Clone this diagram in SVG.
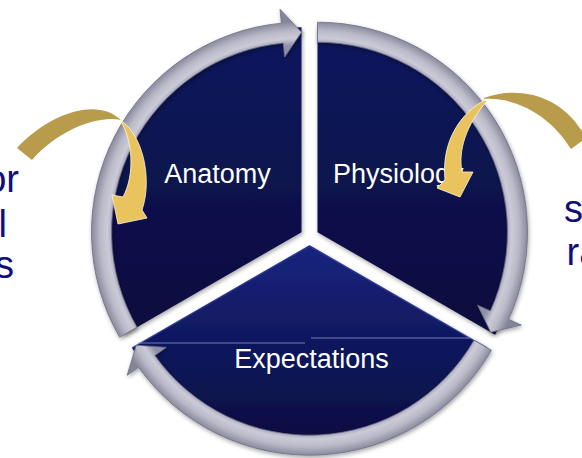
<svg xmlns="http://www.w3.org/2000/svg" width="582" height="458" viewBox="0 0 582 458">
<defs>
<style>
.lbl{font-family:"Liberation Sans",Arial,sans-serif;font-size:27px;fill:#ffffff;text-anchor:middle}
.side{font-family:"Liberation Sans",Arial,sans-serif;font-size:38px;fill:#0d1078}
.band{stroke:#6f6f86;stroke-width:0.8;stroke-linejoin:round}
.gdark{fill:#b89b4b}
.glight{fill:#e9c45e;stroke:#fff6dc;stroke-width:0.8;stroke-linejoin:round}
.hl{stroke:#8f97c8;stroke-width:1;opacity:0.8}
</style>
<filter id="sh" x="-10%" y="-10%" width="120%" height="120%">
<feDropShadow dx="1" dy="2" stdDeviation="2" flood-color="#000" flood-opacity="0.35"/>
</filter>
<linearGradient id="wedgeG" x1="0" y1="0" x2="0" y2="1">
<stop offset="0" stop-color="#0f175e"/>
<stop offset="1" stop-color="#090d3e"/>
</linearGradient>
<linearGradient id="wedgeB" x1="0" y1="0" x2="0" y2="1">
<stop offset="0" stop-color="#1a247e"/>
<stop offset="0.5" stop-color="#0f175c"/>
<stop offset="1" stop-color="#090d3e"/>
</linearGradient>
<radialGradient id="ringL" gradientUnits="userSpaceOnUse" cx="301.5" cy="232.2" r="212">
<stop offset="0.88" stop-color="#9090a8"/>
<stop offset="0.915" stop-color="#cbcbd8"/>
<stop offset="0.95" stop-color="#b9b9c8"/>
<stop offset="0.995" stop-color="#858599"/>
</radialGradient>
<radialGradient id="ringR" gradientUnits="userSpaceOnUse" cx="317.5" cy="232.2" r="212">
<stop offset="0.88" stop-color="#9090a8"/>
<stop offset="0.915" stop-color="#cbcbd8"/>
<stop offset="0.95" stop-color="#b9b9c8"/>
<stop offset="0.995" stop-color="#858599"/>
</radialGradient>
<radialGradient id="ringB" gradientUnits="userSpaceOnUse" cx="309.5" cy="245.2" r="212">
<stop offset="0.88" stop-color="#9090a8"/>
<stop offset="0.915" stop-color="#cbcbd8"/>
<stop offset="0.95" stop-color="#b9b9c8"/>
<stop offset="0.995" stop-color="#858599"/>
</radialGradient>
</defs>
<rect width="582" height="458" fill="#ffffff"/>

<g id="node-anatomy">
<path filter="url(#sh)" fill="url(#wedgeG)" d="M301.5,232.2 L124,334.7 A205,205 0 0 1 301.5,27.2 Z"/>
<text class="lbl" x="217.5" y="183">Anatomy</text>
</g>

<g id="node-physiology">
<path filter="url(#sh)" fill="url(#wedgeG)" d="M317.5,232.2 L317.5,27.2 A205,205 0 0 1 495.04,334.7 Z"/>
<text class="lbl" x="333" y="183" style="text-anchor:start">Physiology</text>
</g>

<g id="node-expectations">
<path filter="url(#sh)" fill="url(#wedgeB)" d="M309.5,245.2 L487.04,347.7 A205,205 0 0 1 131.96,347.7 Z"/>
<path d="M309.5,246 L487,348" stroke="#3444a0" stroke-width="1.5" fill="none" opacity="0.6"/>
<path d="M309.5,246 L132,348" stroke="#3444a0" stroke-width="1.5" fill="none" opacity="0.6"/>
<line class="hl" x1="138" y1="343" x2="305" y2="343"/>
<line class="hl" x1="311" y1="338" x2="470" y2="338"/>
<text class="lbl" x="311.5" y="368">Expectations</text>
</g>

<g id="connectors">
<path class="band" filter="url(#sh)" fill="url(#ringL)" d="M119.63,337.2 A210,210 0 0 1 281.37,23.17 L280.03,9.23 L301.5,32.2 L284.63,57.01 L283.29,43.07 A190,190 0 0 0 136.96,327.2 Z"/>
<path class="band" filter="url(#sh)" fill="url(#ringR)" d="M317.5,22.2 A210,210 0 0 1 508.59,319.28 L521.33,325.09 L490.71,332.2 L477.65,305.19 L490.39,310.99 A190,190 0 0 0 317.5,42.2 Z"/>
<path class="band" filter="url(#sh)" fill="url(#ringB)" d="M491.37,350.2 A210,210 0 0 1 138.53,367.15 L127.14,375.28 L136.29,345.2 L166.21,347.4 L154.82,355.53 A190,190 0 0 0 474.04,340.2 Z"/>

<g id="gold-left">
<path class="gdark" d="M17,148 C45,117 95,95 121,120 C100,115 60,128 32,160 Z"/>
<path class="glight" d="M120,120 C142,133 153,178 142,210 L147,218 L118,224 L112,195 L123,197 C135,175 133,140 120,120 Z"/>
</g>
<g id="gold-right">
<path class="gdark" d="M484,98 C515,86 562,92 586,138 L571,149 C548,112 512,97 484,99 Z"/>
<path class="glight" d="M485,100 C462,112 441,140 445,180 L437,188 L460,197 L473,172 L462,172 C458,150 466,125 487,101 Z"/>
</g>
</g>

<g id="side-left">
<text class="side" x="19" y="192" text-anchor="end">or</text>
<text class="side" x="7" y="237" text-anchor="end">l</text>
<text class="side" x="14" y="278" text-anchor="end">s</text>
</g>
<g id="side-right">
<text class="side" x="564" y="222">s</text>
<text class="side" x="566.5" y="265">ra</text>
</g>
</svg>
